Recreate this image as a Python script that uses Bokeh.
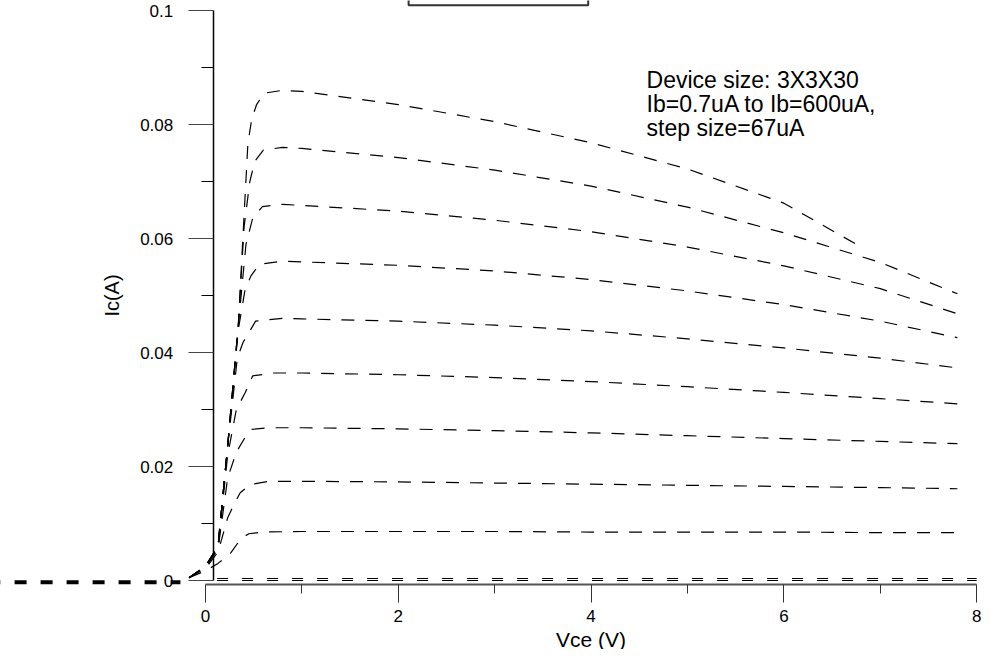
from bokeh.plotting import figure
from bokeh.models import FixedTicker, Range1d, BoxAnnotation, Label
from bokeh.embed import file_html
from bokeh.resources import INLINE

# ---------------- data ----------------
# Ib = 603.7 uA (top curve)
vce_ib9 = [-0.17, 0.0, 0.13, 0.23, 0.34, 0.40, 0.44, 0.48, 0.53, 0.61, 0.8, 1.0, 2.0, 3.0, 4.0, 5.0, 6.0, 6.75]
ic_ib9 = [0.0005, 0.0025, 0.0060, 0.0236, 0.0447, 0.0640, 0.0767, 0.0810, 0.0835, 0.0855, 0.0860, 0.0858, 0.0835, 0.0805, 0.0768, 0.0722, 0.0662, 0.0590]
# Ib = 536.7 uA
vce_ib8 = [-0.17, 0.0, 0.13, 0.23, 0.34, 0.40, 0.46, 0.51, 0.60, 0.8, 1.0, 2.0, 3.0, 4.0, 5.0, 6.0, 7.0, 7.8]
ic_ib8 = [0.0005, 0.0025, 0.0060, 0.0236, 0.0447, 0.0620, 0.0700, 0.0735, 0.0755, 0.0760, 0.0758, 0.0742, 0.0720, 0.0692, 0.0655, 0.0610, 0.0558, 0.0503]
# Ib = 469.7 uA
vce_ib7 = [-0.17, 0.0, 0.13, 0.23, 0.34, 0.42, 0.49, 0.59, 0.8, 1.0, 2.0, 3.0, 4.0, 5.0, 6.0, 7.0, 7.8]
ic_ib7 = [0.0005, 0.0025, 0.0060, 0.0236, 0.0447, 0.0590, 0.0636, 0.0656, 0.0660, 0.0658, 0.0648, 0.0632, 0.0612, 0.0585, 0.0552, 0.0512, 0.0468]
# Ib = 402.7 uA
vce_ib6 = [-0.17, 0.0, 0.13, 0.23, 0.34, 0.41, 0.47, 0.56, 0.8, 1.0, 2.0, 3.0, 4.0, 5.0, 6.0, 7.0, 7.8]
ic_ib6 = [0.0005, 0.0025, 0.0060, 0.0236, 0.0440, 0.0510, 0.0534, 0.0555, 0.0560, 0.0559, 0.0553, 0.0543, 0.0528, 0.0508, 0.0484, 0.0455, 0.0426]
# Ib = 335.7 uA
vce_ib5 = [-0.17, 0.0, 0.13, 0.23, 0.33, 0.39, 0.44, 0.52, 0.8, 1.0, 2.0, 3.0, 4.0, 5.0, 6.0, 7.0, 7.8]
ic_ib5 = [0.0005, 0.0025, 0.0060, 0.0236, 0.0390, 0.0418, 0.0432, 0.0455, 0.0460, 0.0459, 0.0455, 0.0448, 0.0438, 0.0424, 0.0408, 0.0390, 0.0373]
# Ib = 268.7 uA
vce_ib4 = [-0.17, 0.0, 0.13, 0.23, 0.32, 0.41, 0.49, 0.7, 1.0, 2.0, 3.0, 4.0, 5.0, 6.0, 7.0, 7.8]
ic_ib4 = [0.0005, 0.0024, 0.0058, 0.0220, 0.0300, 0.0329, 0.0359, 0.0364, 0.0364, 0.0361, 0.0356, 0.0349, 0.0340, 0.0330, 0.0319, 0.0310]
# Ib = 201.7 uA
vce_ib3 = [-0.17, 0.0, 0.13, 0.23, 0.32, 0.42, 0.48, 0.65, 1.0, 2.0, 3.0, 4.0, 5.0, 6.0, 7.0, 7.8]
ic_ib3 = [0.0005, 0.0023, 0.0055, 0.0180, 0.0225, 0.0254, 0.0265, 0.0268, 0.0268, 0.0266, 0.0263, 0.0259, 0.0254, 0.0249, 0.0244, 0.0240]
# Ib = 134.7 uA
vce_ib2 = [-0.17, 0.0, 0.13, 0.23, 0.30, 0.36, 0.46, 0.65, 1.0, 2.0, 3.0, 4.0, 5.0, 6.0, 7.0, 7.8]
ic_ib2 = [0.0005, 0.0021, 0.0050, 0.0110, 0.0135, 0.0154, 0.0168, 0.0174, 0.0174, 0.0173, 0.0171, 0.0169, 0.0167, 0.0165, 0.0163, 0.0161]
# Ib = 67.7 uA
vce_ib1 = [-0.17, 0.0, 0.13, 0.26, 0.37, 0.45, 0.60, 1.0, 2.0, 3.0, 4.0, 5.0, 6.0, 7.0, 7.8]
ic_ib1 = [0.0005, 0.0017, 0.0030, 0.0048, 0.0074, 0.0082, 0.0085, 0.0086, 0.0086, 0.0086, 0.0085, 0.0085, 0.0085, 0.0084, 0.0084]
# Ib = 0.7 uA
vce_ib0 = [0.12, 1.0, 2.0, 3.0, 4.0, 5.0, 6.0, 7.0, 8.0]
ic_ib0 = [0.00035, 0.00035, 0.00035, 0.00035, 0.00035, 0.00035, 0.00035, 0.00035, 0.00035]
# zero-current trace
vce_zero = [0.12, 1.0, 2.0, 3.0, 4.0, 5.0, 6.0, 7.0, 8.0]
ic_zero = [0.0, 0.0, 0.0, 0.0, 0.0, 0.0, 0.0, 0.0, 0.0]
# heavy dashed trace at negative Vce
vce_neg = [-2.25, -0.26]
ic_neg = [-0.0003, -0.0003]

x_ticks = [0, 2, 4, 6, 8]
x_minor = [1, 3, 5, 7]
y_ticks = [0, 0.02, 0.04, 0.06, 0.08, 0.1]
y_tick_labels = ["0", "0.02", "0.04", "0.06", "0.08", "0.1"]
y_minor = [0.01, 0.03, 0.05, 0.07, 0.09]

note_lines = ["Device size: 3X3X30", "Ib=0.7uA to Ib=600uA,", "step size=67uA"]

# ---------------- figure geometry ----------------
W, H = 984, 649
X0_PX, XS = 205.0, 96.4      # Vce=0 at this px, px per volt
Y0_PX, YS = 580.0, 5700.0    # Ic=0 at this px from top, px per amp

p = figure(width=W, height=H,
           x_range=Range1d(-X0_PX / XS, (W - X0_PX) / XS),
           y_range=Range1d(-(H - Y0_PX) / YS, Y0_PX / YS),
           output_backend="svg", toolbar_location=None, min_border=0)
p.outline_line_color = None
p.grid.visible = False
p.background_fill_color = "white"

FONT = "Liberation Sans"

xa = p.xaxis[0]
xa.fixed_location = -0.0007
xa.bounds = (0, 8)
xa.ticker = FixedTicker(ticks=x_ticks, minor_ticks=x_minor)
xa.axis_line_color = "#555555"
xa.axis_line_width = 2
xa.major_tick_out = 18
xa.major_tick_in = 0
xa.minor_tick_out = 9
xa.minor_tick_in = 0
xa.major_tick_line_color = "#333333"
xa.minor_tick_line_color = "#333333"
xa.major_label_text_font = FONT
xa.major_label_text_font_size = "17px"
xa.major_label_text_color = "black"
xa.major_label_standoff = 8
xa.axis_label = "Vce (V)"
xa.axis_label_text_font = FONT
xa.axis_label_text_font_size = "21px"
xa.axis_label_text_font_style = "normal"
xa.axis_label_text_color = "black"
xa.axis_label_standoff = 2

ya = p.yaxis[0]
ya.fixed_location = 0.08
ya.bounds = (0, 0.1)
ya.ticker = FixedTicker(ticks=y_ticks, minor_ticks=y_minor)
ya.major_label_overrides = dict(zip(y_ticks, y_tick_labels))
ya.axis_line_color = "black"
ya.axis_line_width = 1.5
ya.major_tick_out = 25
ya.major_tick_in = 0
ya.minor_tick_out = 12
ya.minor_tick_in = 0
ya.major_tick_line_color = "#444444"
ya.minor_tick_line_color = "black"
ya.major_label_text_font = FONT
ya.major_label_text_font_size = "17px"
ya.major_label_text_color = "black"
ya.major_label_standoff = 15
ya.axis_label = "Ic(A)"
ya.axis_label_text_font = FONT
ya.axis_label_text_font_size = "20px"
ya.axis_label_text_font_style = "normal"
ya.axis_label_text_color = "black"
ya.axis_label_standoff = 14

# ---------------- curves ----------------
curves = [(vce_ib9, ic_ib9), (vce_ib8, ic_ib8), (vce_ib7, ic_ib7), (vce_ib6, ic_ib6),
          (vce_ib5, ic_ib5), (vce_ib4, ic_ib4), (vce_ib3, ic_ib3), (vce_ib2, ic_ib2),
          (vce_ib1, ic_ib1)]
for vx, iy in curves:
    p.line(vx, iy, line_color="black", line_width=1.2, line_dash="13 11")

p.line(vce_ib0, ic_ib0, line_color="black", line_width=1.2, line_dash="11 14")
p.line(vce_zero, ic_zero, line_color="black", line_width=1.2, line_dash="11 14")
p.line(vce_neg, ic_neg, line_color="black", line_width=4, line_dash="12 14")

# cut-off legend frame at the top
p.add_layout(BoxAnnotation(left=2.107, right=3.97, bottom=0.10094, top=0.2,
                           fill_alpha=0, line_color="#333333", line_alpha=1.0,
                           line_width=2))

# note text
note_y = [0.08789, 0.08368, 0.07947]
for txt, yy in zip(note_lines, note_y):
    p.add_layout(Label(x=4.575, y=yy, text=txt, text_font=FONT, text_font_size="23px",
                       text_color="black", text_baseline="alphabetic", text_align="left"))

open("out.html", "w").write(file_html(p, INLINE))
